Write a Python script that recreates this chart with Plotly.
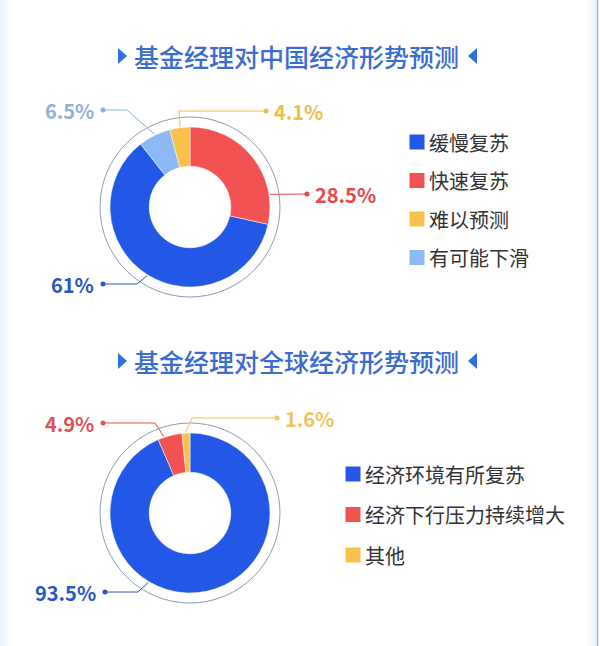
import math
import plotly.graph_objects as go

# ---- data ----
china_labels = ["缓慢复苏", "快速复苏", "难以预测", "有可能下滑"]
china_values = [61, 28.5, 4.1, 6.5]
china_colors = ["#2358e6", "#f25252", "#f9c04c", "#8cb9f3"]

global_labels = ["经济环境有所复苏", "经济下行压力持续增大", "其他"]
global_values = [93.5, 4.9, 1.6]
global_colors = ["#2358e6", "#f25252", "#f9c04c"]

titles = ["基金经理对中国经济形势预测", "基金经理对全球经济形势预测"]

W, H = 600, 646
FONT = "Noto Sans CJK SC"

# percent label colours and leader layout (angle clockwise from 12 o'clock, elbow x, dot x, dot y)
china_label_colors = ["#2a55c8", "#e8474b", "#f0be4e", "#8fb0d8"]
china_leaders = [(212, 137, 103, 284, "right"),
                 (81, None, 307, 194, "left"),
                 (353, 179, 266, 111, "left"),
                 (334, 127, 103, 110, "right")]
global_label_colors = ["#2a55c8", "#e05252", "#f0c35e"]
global_leaders = [(211, 138, 105, 592, "right"),
                  (341, 155, 103, 423, "right"),
                  (357, 192, 277, 418, "left")]

fig = go.Figure()


def add_donut(labels, values, colors, cx, cy, r, direction, rotation):
    fig.add_trace(go.Pie(
        labels=labels, values=values, sort=False, direction=direction, rotation=rotation,
        hole=0.51, marker=dict(colors=colors, line=dict(color="white", width=0.5)),
        textinfo="none", showlegend=False, hoverinfo="label+value",
        domain=dict(x=[(cx - r) / W, (cx + r) / W], y=[(H - cy - r) / H, (H - cy + r) / H]),
    ))
    # thin outer ring
    fig.add_shape(type="circle", xref="x", yref="y", x0=cx - 90, x1=cx + 90, y0=cy - 90, y1=cy + 90,
                  line=dict(color="#8a9cb8", width=1), layer="below")


def add_leaders(values, label_colors, leaders, cx, cy):
    for v, col, (ang, ex, dx, dy, side) in zip(values, label_colors, leaders):
        a = math.radians(ang)
        sx, sy = cx + 81 * math.sin(a), cy - 81 * math.cos(a)
        xs, ys = [sx], [sy]
        if ex is not None:
            xs.append(ex)
            ys.append(dy)
        xs.append(dx)
        ys.append(dy)
        fig.add_trace(go.Scatter(x=xs, y=ys, mode="lines", line=dict(color=col, width=1),
                                 showlegend=False, hoverinfo="skip"))
        fig.add_trace(go.Scatter(x=[dx], y=[dy], mode="markers", marker=dict(color=col, size=5),
                                 showlegend=False, hoverinfo="skip"))
        fig.add_annotation(x=dx + (6 if side == "left" else -7), y=dy, xref="x", yref="y",
                           text=f"{v:g}%", showarrow=False,
                           xanchor=side, yanchor="middle",
                           font=dict(family=FONT, size=20, color=col, weight=600))


def add_legend(labels, colors, x0, y0, step):
    ys = [y0 + i * step for i in range(len(labels))]
    fig.add_trace(go.Scatter(x=[x0] * len(labels), y=ys, mode="markers",
                             marker=dict(symbol="square", size=15, color=colors),
                             showlegend=False, hoverinfo="skip"))
    for lab, y in zip(labels, ys):
        fig.add_annotation(x=x0 + 10, y=y, xref="x", yref="y", text=lab, showarrow=False,
                           xanchor="left", yanchor="middle",
                           font=dict(family=FONT, size=20, color="#333333"))


def add_title(text, y):
    fig.add_annotation(x=296, y=y, xref="x", yref="y", text=text, showarrow=False,
                       xanchor="center", yanchor="middle",
                       font=dict(family=FONT, size=25, color="#3b6cd0", weight=500))
    # narrow pointer triangles either side of the heading
    for x0, x1 in [(118, 127), (477, 468)]:
        fig.add_shape(type="path", xref="x", yref="y",
                      path=f"M {x0},{y - 8} L {x1},{y} L {x0},{y + 8} Z",
                      fillcolor="#2f6fe0", line_width=0)


# chart 1: clockwise from top is red, blue, light blue, yellow.
# counterclockwise pies put the first slice (blue) just clockwise of `rotation`
rot1 = 360 * china_values[1] / sum(china_values)
add_donut(china_labels, china_values, china_colors, 190, 207, 80, "counterclockwise", rot1)
add_leaders(china_values, china_label_colors, china_leaders, 190, 207)
add_legend(china_labels, china_colors, 417, 142, 38.5)
add_title(titles[0], 56)

# chart 2
add_donut(global_labels, global_values, global_colors, 190, 513, 80, "clockwise", 0)
add_leaders(global_values, global_label_colors, global_leaders, 190, 513)
add_legend(global_labels, global_colors, 353, 474, 40.5)
add_title(titles[1], 361)

# frame edges
for i, op in enumerate([0.35, 0.25, 0.15, 0.08]):
    fig.add_shape(type="rect", xref="x", yref="y", x0=i * 3, x1=i * 3 + 3, y0=0, y1=H,
                  fillcolor="#c9d9f5", opacity=op, line_width=0, layer="below")
    fig.add_shape(type="rect", xref="x", yref="y", x0=594 - i * 3, x1=597 - i * 3, y0=0, y1=H,
                  fillcolor="#c9d9f5", opacity=op, line_width=0, layer="below")
fig.add_shape(type="line", xref="x", yref="y", x0=597.5, x1=597.5, y0=0, y1=H,
              line=dict(color="#9db5ea", width=1.5))

fig.update_layout(
    width=W, height=H, margin=dict(l=0, r=0, t=0, b=0),
    paper_bgcolor="white", plot_bgcolor="rgba(0,0,0,0)",
    xaxis=dict(range=[0, W], visible=False, fixedrange=True),
    yaxis=dict(range=[H, 0], visible=False, fixedrange=True),
    showlegend=False,
)

# drop the page's default 8px body margin so the figure sits at the window origin
fig.write_html("out.html", config={"displayModeBar": False},
               post_script="document.body.style.margin='0';")
